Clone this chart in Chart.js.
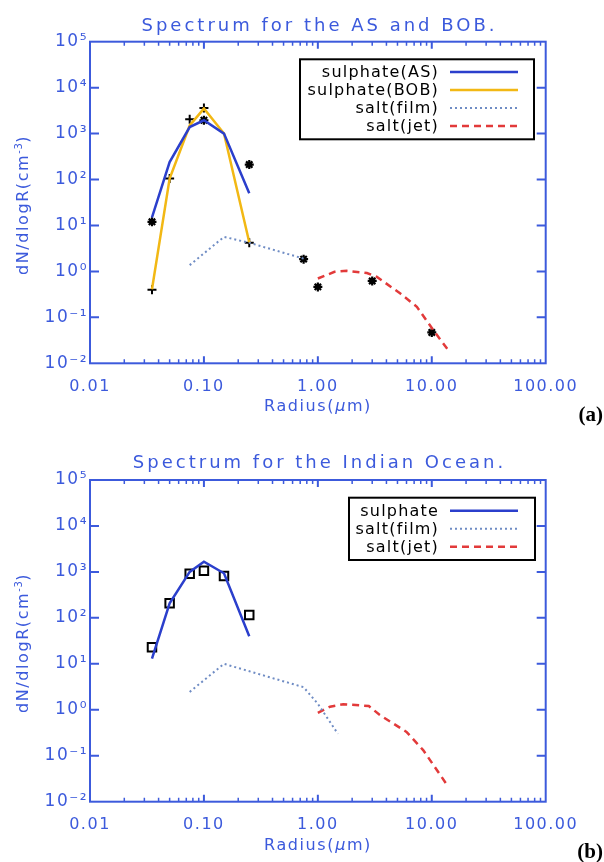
<!DOCTYPE html>
<html><head><meta charset="utf-8">
<script src="https://cdn.jsdelivr.net/npm/chart.js@4.4.1/dist/chart.umd.min.js"></script>
<style>
html,body{margin:0;padding:0;background:#fff;}
#page{position:relative;width:604px;height:862px;overflow:hidden;font-family:"DejaVu Sans",sans-serif;background:#fff;}
canvas{position:absolute;left:0;}
.title{position:absolute;left:0;width:639px;text-align:center;font-size:18px;line-height:18px;letter-spacing:3px;color:#3c5adc;white-space:nowrap;}
.xt{position:absolute;left:0;width:636px;text-align:center;font-size:16px;line-height:16px;letter-spacing:1.6px;color:#3c5adc;white-space:nowrap;}
.yt{position:absolute;font-size:16px;line-height:16px;letter-spacing:1.6px;color:#3c5adc;white-space:nowrap;transform:translate(-50%,-50%) rotate(-90deg);}
.yt sup{font-size:10px;line-height:0;vertical-align:6px;letter-spacing:0.5px;}
.tag{position:absolute;right:1px;font-family:"Liberation Serif",serif;font-weight:bold;font-size:21px;line-height:21px;color:#000;}
</style></head><body>
<div id="page">
  <canvas id="c1" width="604" height="430" style="top:0;width:604px;height:430px"></canvas>
  <canvas id="c2" width="604" height="432" style="top:430px;width:604px;height:432px"></canvas>
  <div class="title" style="top:16px">Spectrum for the AS and BOB.</div>
  <div class="title" style="top:453px">Spectrum for the Indian Ocean.</div>
  <div class="yt" style="left:23px;top:205px">dN/dlogR(cm<sup>-3</sup>)</div>
  <div class="yt" style="left:23px;top:643px">dN/dlogR(cm<sup>-3</sup>)</div>
  <div class="xt" style="top:398px">Radius(<i>μ</i>m)</div>
  <div class="xt" style="top:837px">Radius(<i>μ</i>m)</div>
  <div class="tag" style="top:404px">(a)</div>
  <div class="tag" style="top:841px">(b)</div>
</div>
<script>
// ---------- data: chart (a) Arabian Sea / Bay of Bengal ----------
const radiusSulphate = [0.035, 0.05, 0.075, 0.1, 0.15, 0.25];
const sulphateAS     = [15, 240, 1390, 1950, 1000, 50];
const sulphateBOB    = [0.41, 105, 1500, 3500, 1000, 4.3];
const filmRadiusA    = [0.075, 0.15, 0.25, 0.75];
const saltFilmA      = [1.37, 5.65, 4.2, 1.9];
const jetRadiusA     = [1.0, 1.4, 1.8, 2.7, 3.3, 5.3, 7.4, 10.3, 14.5];
const saltJetA       = [0.70, 0.98, 1.03, 0.92, 0.76, 0.33, 0.17, 0.053, 0.017];
const obsBOBRadius   = [0.035, 0.05, 0.075, 0.1, 0.25];
const obsBOB         = [0.4, 105, 2050, 3600, 4.2];
const obsASRadius    = [0.035, 0.1, 0.25, 0.75, 1.0, 3.0, 10.0];
const obsAS          = [12, 1950, 212, 1.85, 0.46, 0.62, 0.047];
// ---------- data: chart (b) Indian Ocean ----------
const radiusSulphateIO = [0.035, 0.05, 0.075, 0.1, 0.15, 0.25];
const sulphateIO       = [13, 208, 1000, 1670, 935, 40];
const filmRadiusIO     = [0.075, 0.15, 0.75, 1.0, 1.5];
const saltFilmIO       = [2.45, 10, 3.1, 1.35, 0.3];
const jetRadiusIO      = [1.0, 1.28, 1.67, 2.8, 3.5, 6.0, 8.4, 14.0];
const saltJetIO        = [0.86, 1.17, 1.32, 1.21, 0.77, 0.33, 0.133, 0.021];
const obsIORadius      = [0.035, 0.05, 0.075, 0.1, 0.15, 0.25];
const obsIO            = [22.9, 208, 916, 1064, 817, 116];
// ---------- axis ticks ----------
const xDecades = [-2, -1, 0, 1, 2];
const yDecades = [-2, -1, 0, 1, 2, 3, 4, 5];
const minorMultipliers = [1, 2, 3, 4, 5, 6, 7, 8, 9];

const BLUE = '#3c5adc';
const FONT = 'DejaVu Sans';
Chart.defaults.font.family = FONT;

const pts = (xs, ys) => xs.map((x, i) => ({x: x, y: ys[i]}));
const SUP = {'-':'\u207B','0':'\u2070','1':'\u00B9','2':'\u00B2','3':'\u00B3','4':'\u2074','5':'\u2075','6':'\u2076','7':'\u2077','8':'\u2078','9':'\u2079'};
const supStr = n => String(n).split('').map(c => SUP[c]).join('');

function buildXTicks(scale) {
  const t = [];
  xDecades.forEach((e, i) => {
    const mults = i === xDecades.length - 1 ? [1] : minorMultipliers;
    mults.forEach(m => t.push({value: parseFloat((m * Math.pow(10, e)).toPrecision(6)), major: m === 1}));
  });
  scale.ticks = t;
}
function buildYTicks(scale) {
  scale.ticks = yDecades.map(e => ({value: Math.pow(10, e), major: true, exp: e}));
}

const frameTicks = {
  id: 'frameTicks',
  beforeDraw(chart) { chart.ctx.letterSpacing = '1.5px'; },
  afterDatasetsDraw(chart) {
    const {ctx, chartArea: a, scales: {x, y}} = chart;
    ctx.save();
    ctx.strokeStyle = BLUE; ctx.setLineDash([]);
    x.ticks.forEach(t => {
      const px = x.getPixelForValue(t.value);
      if (px <= a.left + 1 || px >= a.right - 1) return;
      const L = t.major ? 7 : 4;
      ctx.lineWidth = t.major ? 2 : 1.5;
      ctx.beginPath();
      ctx.moveTo(px, a.bottom); ctx.lineTo(px, a.bottom - L);
      ctx.moveTo(px, a.top); ctx.lineTo(px, a.top + L);
      ctx.stroke();
    });
    ctx.lineWidth = 2;
    ctx.beginPath();
    y.ticks.forEach(t => {
      const py = y.getPixelForValue(t.value);
      if (py <= a.top + 1 || py >= a.bottom - 1) return;
      ctx.moveTo(a.left, py); ctx.lineTo(a.left + 9, py);
      ctx.moveTo(a.right, py); ctx.lineTo(a.right - 9, py);
    });
    ctx.stroke();
    ctx.strokeRect(a.left, a.top, a.right - a.left, a.bottom - a.top);
    ctx.restore();
  }
};

const boxLegend = {
  id: 'boxLegend',
  afterDraw(chart, args, o) {
    const ctx = chart.ctx;
    ctx.save();
    ctx.fillStyle = '#fff';
    ctx.fillRect(o.left, o.top, o.right - o.left, o.bottom - o.top);
    ctx.strokeStyle = '#000'; ctx.lineWidth = 2; ctx.setLineDash([]);
    ctx.strokeRect(o.left, o.top, o.right - o.left, o.bottom - o.top);
    ctx.font = '16px "' + FONT + '"';
    ctx.letterSpacing = '1.2px';
    ctx.textAlign = 'right'; ctx.textBaseline = 'middle';
    chart.data.datasets.filter(d => d.inLegend).forEach((d, i) => {
      const yy = o.firstRow + i * o.rowGap;
      ctx.fillStyle = '#000';
      ctx.fillText(d.label, o.textRight, yy + 1);
      ctx.strokeStyle = d.borderColor; ctx.lineWidth = d.borderWidth;
      ctx.setLineDash(d.borderDash || []);
      ctx.beginPath(); ctx.moveTo(o.lineX1, yy); ctx.lineTo(o.lineX2, yy); ctx.stroke();
      ctx.setLineDash([]);
    });
    ctx.restore();
  }
};

function lineDs(label, xs, ys, color, width, dash) {
  return {label, data: pts(xs, ys), showLine: true, borderColor: color, backgroundColor: color,
          borderWidth: width, borderDash: dash || [], pointRadius: 0, tension: 0, inLegend: true};
}
function markDs(label, xs, ys, style, radius, width) {
  return {label, data: pts(xs, ys), showLine: false, pointStyle: style, pointRadius: radius,
          borderColor: '#000', backgroundColor: 'rgba(0,0,0,0)', pointBorderWidth: width, borderWidth: width};
}

function makeChart(id, datasets, topPad, xHeight, legendOpts) {
  return new Chart(document.getElementById(id), {
    type: 'scatter',
    data: {datasets},
    plugins: [frameTicks, boxLegend],
    options: {
      responsive: false, animation: false, devicePixelRatio: 1,
      layout: {padding: {top: topPad, right: 58.3, left: 0, bottom: 0}},
      plugins: {legend: {display: false}, tooltip: {enabled: false}, boxLegend: legendOpts},
      scales: {
        x: {type: 'logarithmic', min: 0.01, max: 100, afterBuildTicks: buildXTicks,
            afterFit: s => { s.height = xHeight; },
            grid: {display: false, drawTicks: false}, border: {display: false},
            ticks: {autoSkip: false, maxRotation: 0, minRotation: 0, padding: 14, color: BLUE,
                    font: {family: FONT, size: 16},
                    callback: (v, i, ticks) => ticks[i].major ? Number(v).toFixed(2) : ''}},
        y: {type: 'logarithmic', min: 0.01, max: 1e5, afterBuildTicks: buildYTicks,
            afterFit: s => { s.width = 90; },
            grid: {display: false, drawTicks: false}, border: {display: false},
            ticks: {autoSkip: false, padding: 2, color: BLUE, font: {family: FONT, size: 17},
                    callback: v => '10' + supStr(Math.round(Math.log10(v)))}}
      }
    }
  });
}

makeChart('c1', [
  lineDs('sulphate(AS)', radiusSulphate, sulphateAS, '#2b3fcc', 2.5),
  lineDs('sulphate(BOB)', radiusSulphate, sulphateBOB, '#f2b814', 2.5),
  lineDs('salt(film)', filmRadiusA, saltFilmA, '#6f8cc4', 2, [2, 3]),
  lineDs('salt(jet)', jetRadiusA, saltJetA, '#e23a3a', 2.5, [7, 5]),
  markDs('obs(BOB)', obsBOBRadius, obsBOB, 'cross', 4.5, 2),
  markDs('obs(AS)', obsASRadius, obsAS, 'star', 4.5, 2.2)
], 41.7, 66.7, {left: 300, right: 534, top: 59.3, bottom: 139.3, firstRow: 72, rowGap: 18, textRight: 439, lineX1: 450, lineX2: 518});

makeChart('c2', [
  lineDs('sulphate', radiusSulphateIO, sulphateIO, '#2b3fcc', 2.5),
  lineDs('salt(film)', filmRadiusIO, saltFilmIO, '#6f8cc4', 2, [2, 3]),
  lineDs('salt(jet)', jetRadiusIO, saltJetIO, '#e23a3a', 2.5, [7, 5]),
  markDs('obs', obsIORadius, obsIO, 'rect', 6, 2)
], 50, 60.3, {left: 349, right: 535, top: 67.7, bottom: 130, firstRow: 80.7, rowGap: 18, textRight: 439, lineX1: 450, lineX2: 518});
</script>
</body></html>
